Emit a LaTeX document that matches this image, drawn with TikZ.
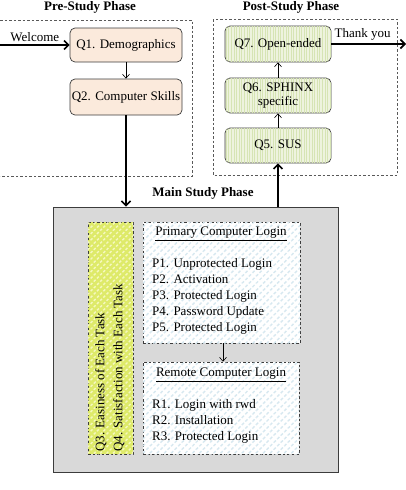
\documentclass[tikz,border=0pt]{standalone}
\usepackage{fontspec}
\setmainfont{Liberation Serif}[BoldFont={Liberation Serif Bold}]
\usetikzlibrary{arrows.meta,patterns.meta}
\definecolor{peach}{RGB}{251,234,220}
\definecolor{greenbase}{RGB}{238,243,222}
\definecolor{greenstripe}{RGB}{214,228,180}
\definecolor{yellowbase}{RGB}{222,234,105}
\definecolor{yellowstripe}{RGB}{245,248,190}
\definecolor{bluestripe}{RGB}{215,232,240}
\definecolor{maingray}{RGB}{217,217,217}
\definecolor{edge}{RGB}{60,60,60}
\tikzset{
  phase/.style={draw=gray!70!black, dashed, dash pattern=on 2.5pt off 2pt, line width=0.6pt},
  title/.style={font=\fontsize{13}{15}\selectfont\bfseries, inner sep=0pt},
  qbox/.style={draw=edge, line width=0.7pt, rounded corners=5pt, inner sep=0pt, align=center, font=\fontsize{13}{15}\selectfont},
  prebox/.style={qbox, fill=peach},
  postbox/.style={qbox, fill=greenbase, postfill},
  postfill/.style={postaction={pattern={Lines[angle=90,distance=2.6pt,line width=0.9pt]}, pattern color=greenstripe}},
  subbox/.style={draw=edge, dashed, dash pattern=on 2.5pt off 2pt, line width=0.6pt, fill=white,
    postaction={pattern={Lines[angle=45,distance=5pt,line width=1.4pt]}, pattern color=bluestripe}},
  yelbox/.style={draw=edge, dashed, dash pattern=on 2.5pt off 2pt, line width=0.6pt, fill=yellowbase,
    postaction={pattern={Lines[angle=45,distance=4.5pt,line width=1.4pt]}, pattern color=yellowstripe}},
  txt/.style={font=\fontsize{13}{16}\selectfont, inner sep=0pt},
  thin/.style={-{Straight Barb[length=4pt,width=7pt]}, line width=0.6pt, draw=black},
  thick/.style={-{Straight Barb[length=4.5pt,width=9pt]}, line width=1.6pt, draw=black},
}
\begin{document}
\begin{tikzpicture}[x=1pt,y=-1pt]
\useasboundingbox (0,0) rectangle (406,490);
% phase frames
\draw[phase] (0,20) -- (192,20) -- (192,176) -- (0,176);
\draw[phase] (213,19) rectangle (397,175);
\node[title] (pretitle) at (90,7) {Pre-Study Phase};
\node[title] (posttitle) at (291,7) {Post-Study Phase};
\node[title] (maintitle) at (203,193) {Main Study Phase};
% pre-study
\node[prebox, minimum width=112pt, minimum height=34pt] (q1) at (126,45) {Q1. Demographics};
\node[prebox, minimum width=112pt, minimum height=36pt] (q2) at (126,97) {Q2. Computer Skills};
% post-study
\node[postbox, minimum width=106pt, minimum height=36pt] (q7) at (278,44) {Q7. Open-ended};
\node[postbox, minimum width=106pt, minimum height=35pt] (q6) at (278,95.5) {Q6. SPHINX\\[-1pt]specific};
\node[postbox, minimum width=106pt, minimum height=35pt] (q5) at (278,145.5) {Q5. SUS};
% main
\node[draw=edge, line width=0.9pt, fill=maingray, minimum width=285pt, minimum height=265pt, inner sep=0pt] (main) at (195.5,339.5) {};
\node[yelbox, minimum width=45pt, minimum height=232pt, inner sep=0pt] (q34) at (110.5,338) {};
\node[txt, rotate=90, anchor=north west, align=left, font=\fontsize{13}{18}\selectfont] (q34t) at (95,452) {Q3. Easiness of Each Task\\Q4. Satisfaction with Each Task};
\node[subbox, minimum width=157pt, minimum height=121pt, inner sep=0pt] (prim) at (221.5,282.5) {};
\node[subbox, minimum width=156pt, minimum height=92pt, inner sep=0pt] (rem) at (221,408) {};
\node[txt] (primt) at (221,234) {\underline{Primary Computer Login}};
\node[txt, anchor=north west, align=left] (primlist) at (152,258) {P1. Unprotected Login\\P2. Activation\\P3. Protected Login\\P4. Password Update\\P5. Protected Login};
\node[txt] (remt) at (221,375) {\underline{Remote Computer Login}};
\node[txt, anchor=north west, align=left] (remlist) at (152,399) {R1. Login with rwd\\R2. Installation\\R3. Protected Login};
% connectors
\coordinate (wstart) at (0,45);
\coordinate (tend) at (406,44);
\draw[thick] (wstart) -- (q1.west) node[midway, above=3pt, txt] {Welcome};
\draw[thin] (q1) -- (q2);
\draw[thick] (q2.south) -- (q2.south |- main.north);
\draw[thick] (q5.south |- main.north) -- (q5.south);
\draw[thin] (q5) -- (q6);
\draw[thin] (q6) -- (q7);
\draw[thick] (q7.east) -- (tend) node[pos=0.42, above=3pt, txt] {Thank you};
\draw[thin] (prim.south -| 223,0) -- (rem.north -| 223,0);
\end{tikzpicture}
\end{document}
